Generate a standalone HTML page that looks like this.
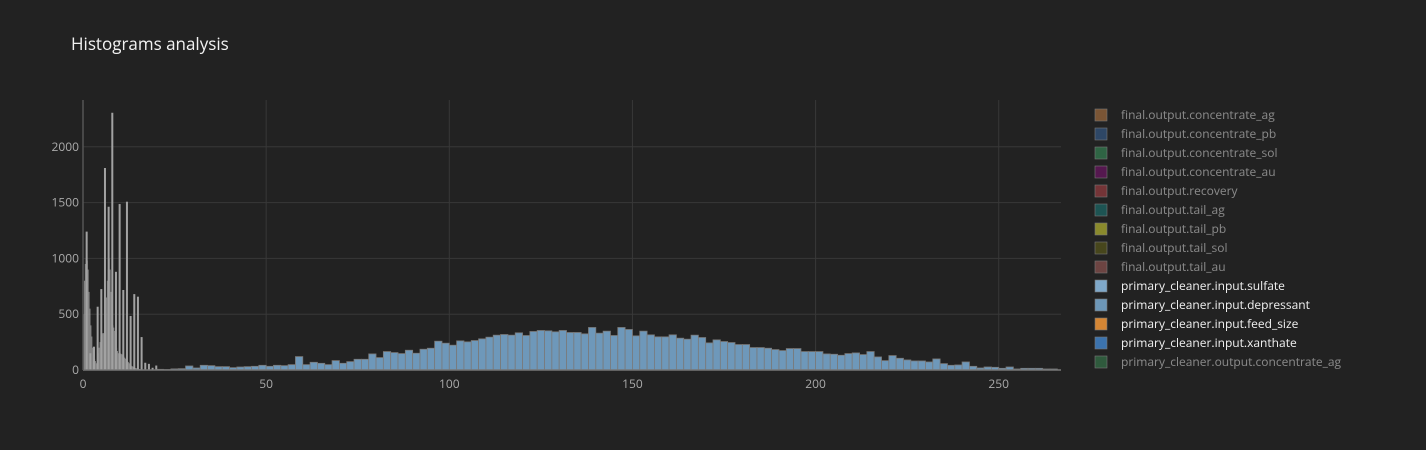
<!DOCTYPE html>
<html><head><meta charset="utf-8"><style>
html,body{margin:0;padding:0;background:#222;width:1426px;height:450px;overflow:hidden;font-family:"Open Sans","Liberation Sans",sans-serif}
</style></head><body>
<svg id="chart" width="1426" height="450" xmlns="http://www.w3.org/2000/svg">
<rect width="1426" height="450" fill="#222"/>
<text x="71" y="50" fill="#f2f2f2" font-size="17">Histograms analysis</text>
<g id="grid"></g><g id="bars"></g><g id="axes"></g><g id="legend"></g>
</svg>
<script>
const wideStart = 20, wideWidth = 2;
const wideValues = [6,4,10,12,36,18,42,39,30,30,21,27,30,33,42,33,42,39,48,120,48,69,60,48,84,60,75,96,96,144,111,165,156,147,177,150,186,195,258,240,222,261,252,264,279,294,312,318,312,333,309,345,354,351,342,354,336,336,324,381,330,348,309,381,363,306,348,315,297,297,315,285,276,312,291,243,270,255,246,228,228,201,201,195,183,174,192,192,165,165,165,144,141,132,147,153,138,165,117,84,129,105,90,81,81,72,99,57,42,45,72,33,18,27,24,15,27,9,15,15,15,9,9];
const spikePos = [1,2,3,4,5,6,7,8,9,10,11,12,13,14,15,16,17,18,19,20];
const spikeValues = [1240,150,209,567,725,1810,1463,2305,880,1487,717,1508,484,680,657,295,65,55,20,40];
const blobStart = 0, blobWidth = 0.25;
const blobValues = [500,800,950,1000,980,900,700,550,400,300,200,150,100,80,60,70,150,200,250,300,320,330,330,340,500,650,800,900,1000,900,700,550,400,380,350,300,200,170,150,150,150,145,140,130,120,110,100,90,80,70,60,50,40,35,30,25,20,18,15,12,10,9,8,6];
const xTicks = [0,50,100,150,200,250];
const yTicks = [0,500,1000,1500,2000];
const legendNames = ["final.output.concentrate_ag","final.output.concentrate_pb","final.output.concentrate_sol","final.output.concentrate_au","final.output.recovery","final.output.tail_ag","final.output.tail_pb","final.output.tail_sol","final.output.tail_au","primary_cleaner.input.sulfate","primary_cleaner.input.depressant","primary_cleaner.input.feed_size","primary_cleaner.input.xanthate","primary_cleaner.output.concentrate_ag"];
const legendColors = ["#7a5535","#2e4766","#2f6444","#55184f","#743437","#1d5453","#8a8a2c","#47461c","#6c4442","#7fa8c9","#6d97b8","#d58634","#3c73ad","#2f5a3d"];
const legendActive = [0,0,0,0,0,0,0,0,0,1,1,1,1,0];

const NS="http://www.w3.org/2000/svg";
const X0=83,X1=1061,Y0=370,Y1=100;
const xs=v=>X0+v*(X1-X0)/267;
const ys=v=>Y0-v*0.1116;
function mk(t,a,p){const e=document.createElementNS(NS,t);for(const k in a)e.setAttribute(k,a[k]);p.appendChild(e);return e;}
const grid=document.getElementById('grid'),bars=document.getElementById('bars'),axes=document.getElementById('axes'),leg=document.getElementById('legend');
xTicks.forEach(t=>{
  if(t>0){const l=mk('line',{x1:xs(t),x2:xs(t),y1:Y1,y2:Y0,stroke:'#383838','stroke-width':1},grid);
  
  }
  const tx=mk('text',{x:xs(t),y:Y0+18,fill:'#aaa','font-size':12,'text-anchor':'middle'},axes);tx.textContent=t;
  
  
});
yTicks.forEach(t=>{
  if(t>0){const l=mk('line',{x1:X0,x2:X1,y1:ys(t),y2:ys(t),stroke:'#383838','stroke-width':1},grid);
  
  }
  const tx=mk('text',{x:X0-4,y:ys(t)+4,fill:'#aaa','font-size':12,'text-anchor':'end'},axes);tx.textContent=t;
  
  
});
wideValues.forEach((v,i)=>{
  const a=wideStart+i*wideWidth;
  const r=mk('rect',{x:xs(a),y:ys(v),width:xs(a+wideWidth)-xs(a),height:Y0-ys(v),fill:'#6e98ba',stroke:'#7a7a7a','stroke-width':0.8},bars);
  
  
});
blobValues.forEach((v,i)=>{
  const a=blobStart+i*blobWidth;
  const r=mk('rect',{x:xs(a),y:ys(v),width:xs(a+blobWidth)-xs(a)+0.2,height:Y0-ys(v),fill:'#a0a0a0','fill-opacity':0.75},bars);
  
  
});
spikePos.forEach((p,i)=>{
  const v=spikeValues[i];
  const r=mk('rect',{x:xs(p)-1,y:ys(v),width:2,height:Y0-ys(v),fill:'#a2a2a2'},bars);
  
  
});
const zl=mk('line',{x1:X0,x2:X1,y1:Y0,y2:Y0,stroke:'#777','stroke-width':1.5},axes);


const yl=mk('line',{x1:X0,x2:X0,y1:Y1,y2:Y0,stroke:'#555','stroke-width':1.5},axes);


legendNames.forEach((n,i)=>{
  const y=115+i*19;
  const g=mk('g',{},leg);
  
  
  mk('rect',{x:1095,y:y-6,width:12,height:12,fill:legendColors[i],stroke:'#777','stroke-width':0.6},g);
  const t=mk('text',{x:1121,y:y+4,fill:'#f2f2f2','fill-opacity':legendActive[i]?1:0.5,'font-size':12},g);t.textContent=n;
});
</script>
</body></html>
